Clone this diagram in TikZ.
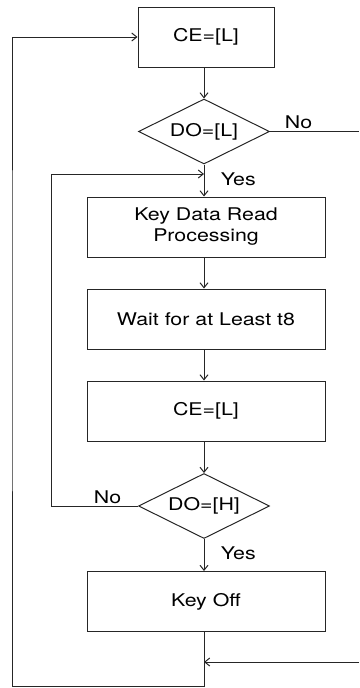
\documentclass[tikz,border=0pt]{standalone}
\usepackage{fontspec}
\setmainfont[FakeStretch=1.22]{TeX Gyre Heros}
\usepackage{tikz}
\usetikzlibrary{arrows.meta,shapes.geometric}

\begin{document}
\begin{tikzpicture}[x=1pt,y=-1pt,
		line/.style={line width=1pt,draw=black!85},
		arr/.style={line,-{Straight Barb[length=5pt,width=8pt,line width=1pt]}},
		box/.style={line,rectangle,minimum height=60pt,inner sep=0pt,align=center,font=\fontsize{17.5}{21}\selectfont},
		decision/.style={line,diamond,aspect=2,minimum width=131pt,minimum height=65pt,inner sep=0pt,font=\fontsize{17.5}{21}\selectfont},
		lbl/.style={font=\fontsize{17.5}{21}\selectfont}]
		\useasboundingbox (0,0) rectangle (359,688);
		\node[box,minimum width=136pt] (ceA) at (206,37) {CE=[L]};
		\node[decision] (doL) at (204,131.5) {DO=[L]};
		\node[box,minimum width=238pt] (keyread) at (206,227) {Key Data Read\\Processing};
		\node[box,minimum width=238pt] (wait) at (206,319) {Wait for at Least t8};
		\node[box,minimum width=238pt] (ceB) at (206,411) {CE=[L]};
		\node[decision] (doH) at (204,506) {DO=[H]};
		\node[box,minimum width=238pt] (keyoff) at (206,601.5) {Key Off};
		\coordinate (jA) at (204,174);
		\coordinate (jB) at (204,662);
		\coordinate (bot) at (204,686);
		\coordinate (edgeA) at (359,131.5);
		\coordinate (edgeB) at (359,662);
		% main flow
		\draw[arr] (ceA.south -| doL) -- (doL.north);
		\draw[arr] (doL.south) -- node[lbl,right=13pt,pos=0.45] {Yes} (keyread.north -| doL);
		\draw[arr] (keyread.south -| doL) -- (wait.north -| doL);
		\draw[arr] (wait.south -| doL) -- (ceB.north -| doL);
		\draw[arr] (ceB.south -| doL) -- (doH.north);
		\draw[arr] (doH.south) -- node[lbl,right=13pt,pos=0.45] {Yes} (keyoff.north -| doL);
		% branches
		\draw[line] (doL.east) -- node[lbl,above,pos=0.32,inner sep=2pt] {No} (edgeA);
		\draw[arr] (doH.west) -- node[lbl,above,pos=0.35,inner sep=2pt] {No} ++(-87,0) |- (jA);
		\draw[arr] (edgeB) -- (jB);
		\draw[arr] (keyoff.south -| doL) -- (bot) -| (12,300) |- (ceA.west);
	\end{tikzpicture}
\end{document}
